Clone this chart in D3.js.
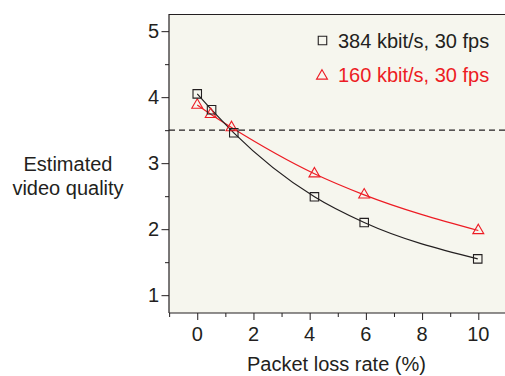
<!DOCTYPE html>
<html><head><meta charset="utf-8">
<script src="https://cdn.jsdelivr.net/npm/d3@7"></script>
<style>
html,body{margin:0;padding:0;background:#fff;}
svg{display:block;}
text{font-family:"Liberation Sans",Arial,Helvetica,sans-serif;fill:#231f20;}
</style></head><body>
<svg id="c" width="505" height="376"></svg>
<script>
const lossX1 = [0, 0.51, 1.3, 4.17, 5.94, 9.98];
const quality384 = [4.05, 3.81, 3.46, 2.49, 2.10, 1.55];
const lossX2 = [0, 0.48, 1.22, 4.17, 5.94, 10];
const quality160 = [3.88, 3.74, 3.54, 2.84, 2.52, 1.98];
const seriesNames = ["384 kbit/s, 30 fps", "160 kbit/s, 30 fps"];
const xTicks = [0, 2, 4, 6, 8, 10];
const yTicks = [1, 2, 3, 4, 5];
const threshold = 3.5;

const svg = d3.select("#c");
const L = 169, T = 14, R = 505, B = 313;
const x = d3.scaleLinear().domain([-1.005, 10.95]).range([L, R]);
const y = d3.scaleLinear().domain([0.73, 5.26]).range([B, T]);
const ink = "#231f20", red = "#ed1c24";

svg.append("rect").attr("x", L).attr("y", T).attr("width", R - L).attr("height", B - T).attr("fill", "#f6f6ee");
svg.append("line").attr("x1", L).attr("x2", R).attr("y1", T + 0.5).attr("y2", T + 0.5).attr("stroke", ink).attr("stroke-width", 1.2);

// dashed threshold
svg.append("line").attr("x1", L).attr("x2", R).attr("y1", y(threshold)).attr("y2", y(threshold))
  .attr("stroke", ink).attr("stroke-width", 1.2).attr("stroke-dasharray", "6,4");

// axes
const gx = svg.append("g").attr("transform", `translate(0,${B})`);
gx.call(d3.axisBottom(x).tickValues(d3.range(-1, 11, 1)).tickSize(4).tickFormat(""));
gx.call(g => g.selectAll(".tick").filter(d => xTicks.includes(d)).select("line").attr("y2", 7));
gx.selectAll(".domain").remove();
gx.append("line").attr("x1", L).attr("x2", R).attr("stroke", ink).attr("stroke-width", 1.2);
gx.selectAll(".tick line").attr("stroke", ink);
xTicks.forEach(v => gx.append("text").attr("x", x(v)).attr("y", 28).attr("text-anchor", "middle").attr("font-size", 20).text(v));

const gy = svg.append("g").attr("transform", `translate(${L},0)`);
gy.call(d3.axisLeft(y).tickValues(d3.range(1, 5.5, 0.5)).tickSize(4).tickFormat(""));
gy.call(g => g.selectAll(".tick").filter(d => yTicks.includes(d)).select("line").attr("x2", -7.5));
gy.selectAll(".domain").remove();
gy.append("line").attr("y1", T).attr("y2", B).attr("stroke", ink).attr("stroke-width", 1.2);
gy.selectAll(".tick line").attr("stroke", ink);
yTicks.forEach(v => gy.append("text").attr("x", -10).attr("y", y(v)).attr("dy", "0.36em").attr("text-anchor", "end").attr("font-size", 20).text(v));

// titles
svg.append("text").attr("x", (L + R) / 2 - 0.5).attr("y", 371).attr("text-anchor", "middle").attr("font-size", 20).text("Packet loss rate (%)");
svg.append("text").attr("x", 68).attr("y", 171).attr("text-anchor", "middle").attr("font-size", 20).text("Estimated");
svg.append("text").attr("x", 68).attr("y", 195).attr("text-anchor", "middle").attr("font-size", 20).text("video quality");

// curves
const line = d3.line().x(d => x(d[0])).y(d => y(d[1])).curve(d3.curveMonotoneX);
const d1 = lossX1.map((v, i) => [v, quality384[i]]);
const d2 = lossX2.map((v, i) => [v, quality160[i]]);
svg.append("path").attr("d", line(d2)).attr("fill", "none").attr("stroke", red).attr("stroke-width", 1.2);
svg.append("path").attr("d", line(d1)).attr("fill", "none").attr("stroke", ink).attr("stroke-width", 1.2);

const sq = d3.symbol().type(d3.symbolSquare).size(72);
const tri = d3.symbol().type(d3.symbolTriangle).size(52);
svg.selectAll(".tri").data(d2).enter().append("path").attr("d", tri)
  .attr("transform", d => `translate(${x(d[0])},${y(d[1])})`).attr("fill", "none").attr("stroke", red).attr("stroke-width", 1.1);
svg.selectAll(".sq").data(d1).enter().append("path").attr("d", sq)
  .attr("transform", d => `translate(${x(d[0])},${y(d[1])})`).attr("fill", "none").attr("stroke", ink).attr("stroke-width", 1.1);

// legend
svg.append("path").attr("d", sq).attr("transform", "translate(322.5,40.5)").attr("fill", "none").attr("stroke", ink).attr("stroke-width", 1.1);
svg.append("text").attr("x", 338).attr("y", 48).attr("font-size", 20).text(seriesNames[0]);
svg.append("path").attr("d", tri).attr("transform", "translate(322,76)").attr("fill", "none").attr("stroke", red).attr("stroke-width", 1.1);
svg.append("text").attr("x", 338).attr("y", 82).attr("font-size", 20).style("fill", red).text(seriesNames[1]);
</script>
</body></html>
